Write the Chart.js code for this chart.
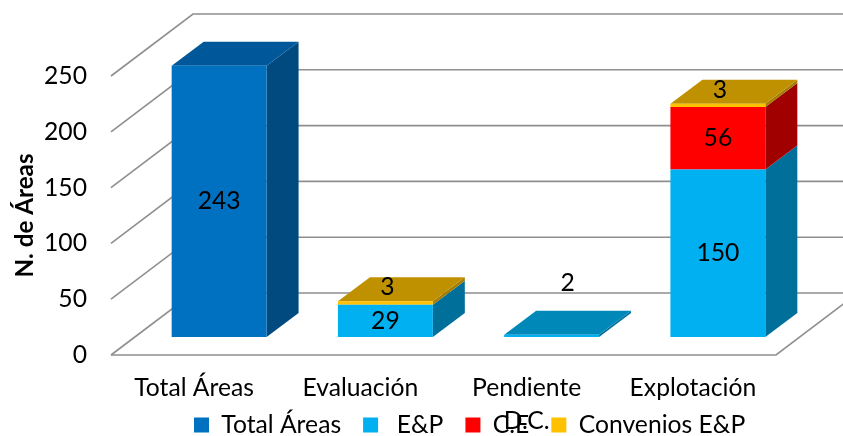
<!DOCTYPE html>
<html>
<head>
<meta charset="utf-8">
<script src="https://cdn.jsdelivr.net/npm/chart.js@4.4.1/dist/chart.umd.min.js"></script>
<style>
html,body{margin:0;padding:0;background:#fff;}
#wrap{width:843px;height:436px;position:relative;}
</style>
</head>
<body>
<div id="wrap"><canvas id="c" width="843" height="436"></canvas></div>
<script>
// ---- data ----
const categories = ['Total Áreas', 'Evaluación', 'Pendiente D.C.', 'Explotación'];
const seriesNames = ['Total Áreas', ' E&P', 'C.E', 'Convenios E&P'];
const totalAreas = [243, null, null, null];
const eyp = [null, 29, 2, 150];
const ce = [null, null, null, 56];
const convenios = [null, 3, null, 3];
const yTicks = [0, 50, 100, 150, 200, 250];

// ---- style ----
const frontColors = ['#0070C0', '#00B0F0', '#FF0000', '#FFC000'];
const sideColors  = ['#004A80', '#00709B', '#A00000', '#A67D00'];
const topColors   = ['#00579A', '#0088B8', '#C00000', '#BF9000'];
const FONT = 'Lato';
const WALL = {dx: 82, dy: -62};      // depth of the wall/floor
const BAR_OFF = {dx: 25, dy: -18};   // bar front plane offset from floor front
const BD = {dx: 32, dy: -24};        // bar depth
const FLOOR_FRONT_Y = 355;
const AXIS_W = 111;
const LEGEND_X = 194, LEGEND_Y = 425;

const M = document.createElement('canvas').getContext('2d');
function sizeFor(text, width, weight) {
  M.font = (weight || 'normal') + ' 100px ' + FONT;
  return Math.round(1000 * width / M.measureText(text).width) / 10;
}
const baseSize = sizeFor('Total Áreas', 120);
const titleSize = sizeFor('N. de Áreas', 124, 'bold');

function poly(ctx, pts) {
  ctx.beginPath();
  ctx.moveTo(pts[0][0], pts[0][1]);
  for (let k = 1; k < pts.length; k++) ctx.lineTo(pts[k][0], pts[k][1]);
  ctx.closePath();
  ctx.fill();
}

const threeD = {
  id: 'threeD',
  beforeDatasetsDraw(chart) {
    const {ctx, chartArea: a} = chart;
    const ys = chart.scales.y;
    ctx.save();
    ctx.strokeStyle = '#8f8f8f';
    ctx.lineWidth = 1.6;
    ys.ticks.forEach(t => {
      const py = ys.getPixelForValue(t.value);
      ctx.beginPath();
      ctx.moveTo(a.left, py);
      ctx.lineTo(a.left + WALL.dx, py + WALL.dy);
      ctx.lineTo(a.right + WALL.dx, py + WALL.dy);
      ctx.stroke();
    });
    const y0 = ys.getPixelForValue(0);
    ctx.beginPath();
    ctx.moveTo(a.left, y0);
    ctx.lineTo(a.right, y0);
    ctx.lineTo(a.right + WALL.dx, y0 + WALL.dy);
    ctx.stroke();
    ctx.restore();

    ctx.save();
    ctx.translate(BAR_OFF.dx, BAR_OFF.dy);
    const n = chart.data.labels.length;
    for (let i = 0; i < n; i++) {
      let topDs = -1;
      chart.data.datasets.forEach((ds, d) => { if (ds.data[i]) topDs = d; });
      chart.data.datasets.forEach((ds, d) => {
        if (!ds.data[i]) return;
        const el = chart.getDatasetMeta(d).data[i];
        const p = el.getProps(['x', 'y', 'base', 'width'], true);
        const l = p.x - p.width / 2, r = p.x + p.width / 2;
        ctx.fillStyle = sideColors[d];
        poly(ctx, [[r, p.base], [r, p.y], [r + BD.dx, p.y + BD.dy], [r + BD.dx, p.base + BD.dy]]);
        if (d === topDs) {
          ctx.fillStyle = topColors[d];
          poly(ctx, [[l, p.y], [r, p.y], [r + BD.dx, p.y + BD.dy], [l + BD.dx, p.y + BD.dy]]);
        }
      });
    }
  },
  afterDatasetsDraw(chart) {
    const ctx = chart.ctx;
    ctx.font = baseSize + 'px ' + FONT;
    ctx.fillStyle = '#000';
    ctx.textAlign = 'center';
    ctx.textBaseline = 'middle';
    const n = chart.data.labels.length;
    for (let i = 0; i < n; i++) {
      let count = 0;
      chart.data.datasets.forEach(ds => { if (ds.data[i]) count++; });
      chart.data.datasets.forEach((ds, d) => {
        const v = ds.data[i];
        if (!v) return;
        const p = chart.getDatasetMeta(d).data[i].getProps(['x', 'y', 'base'], true);
        const h = p.base - p.y;
        let lx = p.x, ly = (p.y + p.base) / 2;
        if (h < 10) {
          if (count === 1) { lx = p.x + BD.dx / 2; ly = p.y + 2 * BD.dy - 4; }
          else { lx = p.x + 2; ly = p.y + BD.dy / 2 - 2; }
        }
        ctx.fillText(String(v), lx, ly);
      });
    }
    ctx.restore();
  }
};

const legendPlace = {
  id: 'legendPlace',
  afterLayout(chart) {
    const lg = chart.legend;
    if (lg) {
      const pad = lg.options.labels.padding;
      lg.left = LEGEND_X - pad;
      lg.right = chart.width;
      lg.top = LEGEND_Y - pad - baseSize / 2;
      lg.bottom = chart.height;
    }
    // let the category labels run past the axis box (second line overlaps the legend)
    chart.scales.x.bottom = chart.height;
  }
};

Chart.defaults.font.family = FONT;
Chart.defaults.color = '#000';

const seriesValues = [totalAreas, eyp, ce, convenios];

new Chart(document.getElementById('c'), {
  type: 'bar',
  data: {
    labels: categories,
    datasets: seriesValues.map((vals, d) => ({
      label: seriesNames[d],
      data: vals,
      backgroundColor: frontColors[d],
      borderWidth: 0,
      barPercentage: 0.571,
      categoryPercentage: 1.0
    }))
  },
  options: {
    responsive: false,
    animation: false,
    devicePixelRatio: 1,
    events: [],
    layout: {padding: {left: 0, right: 67, top: 76, bottom: 0}},
    plugins: {
      tooltip: {enabled: false},
      legend: {
        position: 'bottom',
        align: 'start',
        labels: {
          boxWidth: 15,
          boxHeight: 15,
          padding: 22,
          color: '#000',
          font: {size: baseSize}
        }
      }
    },
    scales: {
      x: {
        stacked: true,
        grid: {display: false, drawTicks: false},
        border: {display: false},
        ticks: {
          color: '#000',
          padding: 17,
          maxRotation: 0,
          autoSkip: false,
          font: {size: baseSize, lineHeight: 33 / baseSize},
          callback: function (value, index) {
            const lab = this.getLabelForValue(value);
            if (lab.length > 12) {
              const k = lab.lastIndexOf(' ');
              return [lab.slice(0, k), lab.slice(k + 1)];
            }
            return lab;
          }
        },
        afterFit(s) {
          const lg = s.chart.legend;
          s.height = s.chart.height - (lg ? lg.height : 0) - FLOOR_FRONT_Y;
        }
      },
      y: {
        stacked: true,
        min: yTicks[0],
        max: yTicks[yTicks.length - 1],
        grid: {display: false, drawTicks: false},
        border: {display: false},
        afterBuildTicks(s) { s.ticks = yTicks.map(v => ({value: v})); },
        ticks: {color: '#000', padding: 24, font: {size: baseSize}},
        title: {
          display: true,
          text: 'N. de Áreas',
          color: '#000',
          font: {size: titleSize, weight: 'bold', lineHeight: 1.2},
          padding: {top: 25 - titleSize * 0.6, bottom: 0}
        },
        afterFit(s) { s.width = AXIS_W; }
      }
    }
  },
  plugins: [threeD, legendPlace]
});
</script>
</body>
</html>
